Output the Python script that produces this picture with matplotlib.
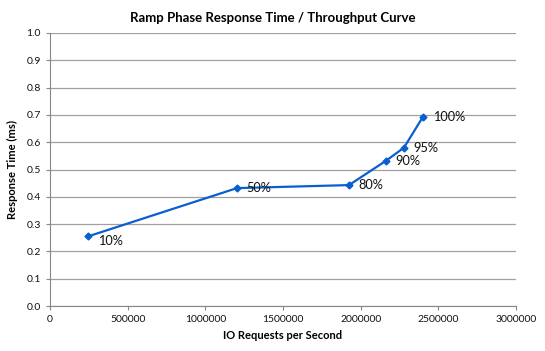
import matplotlib
matplotlib.use('Agg')
import matplotlib.pyplot as plt

# ramp phase points
iops = [244000, 1204000, 1925000, 2163000, 2279000, 2401000]
resp_ms = [0.255, 0.432, 0.443, 0.532, 0.580, 0.693]
labels = ['10%', '50%', '80%', '90%', '95%', '100%']
label_dy = [-3, 0, 0, 0, 0, 0]

xticks = [0, 500000, 1000000, 1500000, 2000000, 2500000, 3000000]
yticks = [i / 10 for i in range(11)]

plt.rcParams['font.family'] = ['Lato', 'DejaVu Sans']

fig = plt.figure(figsize=(5.45, 3.51), dpi=100)
ax = fig.add_axes([0.0917, 0.128, 0.855, 0.778])

ax.plot(iops, resp_ms, '-D', color='#0a5fd0', lw=1.6, markersize=3.5)
for x, y, s, dy in zip(iops, resp_ms, labels, label_dy):
	ax.annotate(s, (x, y), xytext=(7, dy), textcoords='offset points',
		fontsize=9.2, va='center', ha='left', color='#111111')

ax.set_xlim(0, 3000000)
ax.set_ylim(0, 1.0)
ax.set_xticks(xticks)
ax.set_xticklabels([str(t) for t in xticks])
ax.set_yticks(yticks)
ax.set_yticklabels([f'{t:.1f}' for t in yticks])
ax.tick_params(labelsize=7.5, length=3, color='#888888', colors='#111111')
ax.tick_params(axis='both', color='#888888')
ax.grid(axis='y', color='#a0a0a0', lw=0.9)
ax.set_axisbelow(True)
for s in ('top', 'right'):
	ax.spines[s].set_visible(False)
for s in ('left', 'bottom'):
	ax.spines[s].set_color('#888888')

ax.set_xlabel('IO Requests per Second', fontsize=8, fontweight='bold', labelpad=4)
ax.set_ylabel('Response Time (ms)', fontsize=8, fontweight='bold', labelpad=6)
fig.suptitle('Ramp Phase Response Time / Throughput Curve', fontsize=9.5,
	fontweight='bold', y=0.965)

fig.savefig('out.png', dpi=100)
